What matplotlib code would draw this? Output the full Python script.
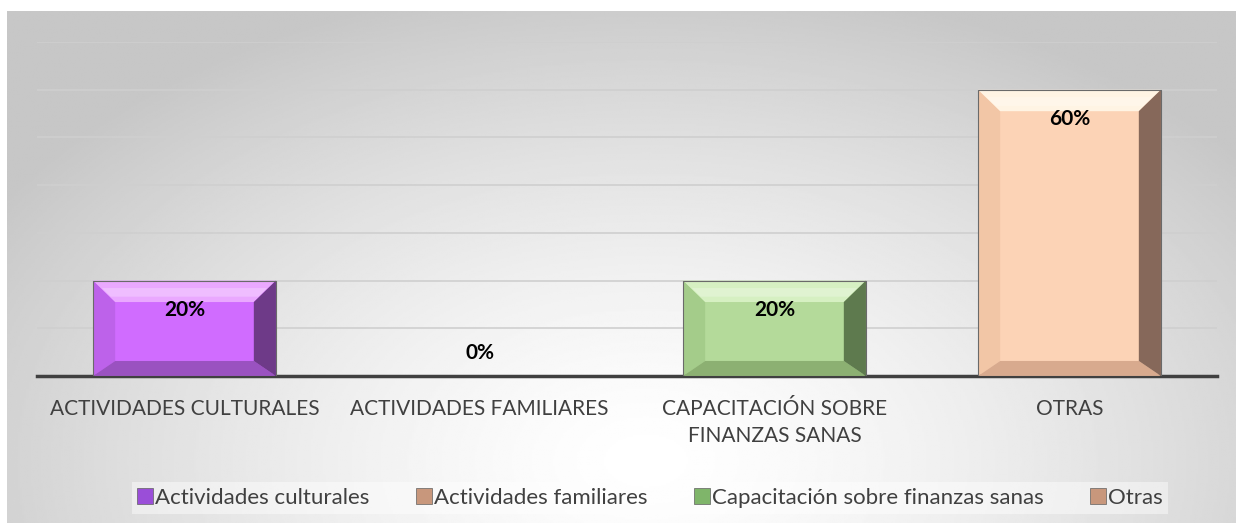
"""
Bar chart of activity preferences with bevelled bars and a soft gray background
"""

import numpy as np
import matplotlib.pyplot as plt
from matplotlib.patches import Polygon, Patch

categories = ['ACTIVIDADES CULTURALES', 'ACTIVIDADES FAMILIARES',
              'CAPACITACIÓN SOBRE\nFINANZAS SANAS', 'OTRAS']
legend_names = ['Actividades culturales', 'Actividades familiares',
                'Capacitación sobre finanzas sanas', 'Otras']
values = [0.20, 0.0, 0.20, 0.60]
labels = ['20%', '0%', '20%', '60%']

# face, top, left, right, bottom shades for each bar
shades = [
    ['#d06cff', '#eaa8ff', '#bd62ea', '#6e3a88', '#9a52c0'],
    ['#e8b898', '#f8dcc8', '#d8a888', '#7a5a48', '#b88870'],
    ['#b4da9a', '#d6f0c2', '#a4cc8a', '#5e7a4e', '#8cb072'],
    ['#fcd3b6', '#fff4e4', '#f2c6a6', '#86685a', '#d8aa8e'],
]
legend_colors = ['#9a4ed8', '#c8977c', '#7fb56a', '#c8977c']

plt.rcParams['font.family'] = ['Lato', 'DejaVu Sans']

fig = plt.figure(figsize=(12.36, 5.23), dpi=100)

# background with radial gradient
bg = fig.add_axes([7 / 1236, 0, 1 - 7 / 1236, 1 - 11 / 523])
yy, xx = np.mgrid[0:1:300j, 0:1:600j]
r = np.sqrt(((xx - 0.52) / 0.62) ** 2 + ((yy - 0.88) / 0.95) ** 2)
shade = np.clip(1.0 - 0.22 * r ** 1.4, 0.78, 1.0)
bg.imshow(shade, cmap='gray', vmin=0, vmax=1, aspect='auto',
          extent=[0, 1, 0, 1], origin='upper')
bg.set_axis_off()

ax = fig.add_axes([37 / 1236, (523 - 376) / 523, 1180 / 1236, 334 / 523])
ax.patch.set_alpha(0)
x = np.arange(len(categories))
width = 0.62
ax.set_xlim(-0.5, len(categories) - 0.5)
ax.set_ylim(0, 0.7)
ax.set_yticks(np.arange(0.1, 0.71, 0.1))
ax.yaxis.grid(True, color='#cfcfcf', linewidth=1.2)
ax.set_axisbelow(True)
ax.tick_params(axis='y', left=False, labelleft=False)
ax.tick_params(axis='x', bottom=False, pad=13)
for s in ['top', 'right', 'left']:
    ax.spines[s].set_visible(False)
ax.spines['bottom'].set_color('#404040')
ax.spines['bottom'].set_linewidth(2.5)
ax.set_xticks(x)
ax.set_xticklabels(categories, fontsize=15, color='#404040', linespacing=1.45)

bars = ax.bar(x, values, width=width, color=[c[0] for c in shades],
              edgecolor='#7a7a7a', linewidth=0.6, zorder=2)

bx = 0.075   # bevel size, category units
by = 0.045   # bevel size, value units
for bar, sh in zip(bars, shades):
    h = bar.get_height()
    if h <= 0:
        continue
    x0 = bar.get_x()
    x1 = x0 + bar.get_width()
    bb = min(by, h / 3)
    top = [(x0, h), (x1, h), (x1 - bx, h - bb), (x0 + bx, h - bb)]
    left = [(x0, 0), (x0, h), (x0 + bx, h - bb), (x0 + bx, bb * 0.7)]
    right = [(x1, 0), (x1, h), (x1 - bx, h - bb), (x1 - bx, bb * 0.7)]
    bottom = [(x0, 0), (x1, 0), (x1 - bx, bb * 0.7), (x0 + bx, bb * 0.7)]
    for pts, col in [(left, sh[2]), (bottom, sh[4]), (top, sh[1]),
                     (right, sh[3])]:
        ax.add_patch(Polygon(pts, closed=True, facecolor=col,
                             edgecolor='none', zorder=3))
    # light band inside the top bevel
    ax.add_patch(Polygon([(x0 + bx * 0.4, h - bb * 0.35),
                          (x1 - bx * 0.4, h - bb * 0.35),
                          (x1 - bx * 0.8, h - bb * 0.75),
                          (x0 + bx * 0.8, h - bb * 0.75)],
                         closed=True, facecolor='white', alpha=0.25,
                         edgecolor='none', zorder=3))
    ax.add_patch(plt.Rectangle((x0, 0), x1 - x0, h, fill=False,
                               edgecolor='#6a6a6a', linewidth=0.8, zorder=4))

for xi, v, lab in zip(x, values, labels):
    ypos = v - 0.062 if v > 0 else 0.048
    ax.text(xi, ypos, lab, ha='center', va='center', fontsize=15,
            fontweight='bold', color='black', zorder=5)

handles = [Patch(facecolor=c, edgecolor='#606060', linewidth=0.5)
           for c in legend_colors]
leg = fig.legend(handles, legend_names, loc='center',
                 bbox_to_anchor=(650 / 1236, 1 - 498 / 523), ncol=4,
                 fontsize=16, frameon=True, fancybox=False,
                 handlelength=0.7, handleheight=0.7, handletextpad=0.1,
                 columnspacing=2.1, borderpad=0.25, borderaxespad=0)
leg.get_frame().set_facecolor('white')
leg.get_frame().set_alpha(0.45)
leg.get_frame().set_edgecolor('none')
for t in leg.get_texts():
    t.set_color('#404040')

fig.savefig('out.png', dpi=100)
